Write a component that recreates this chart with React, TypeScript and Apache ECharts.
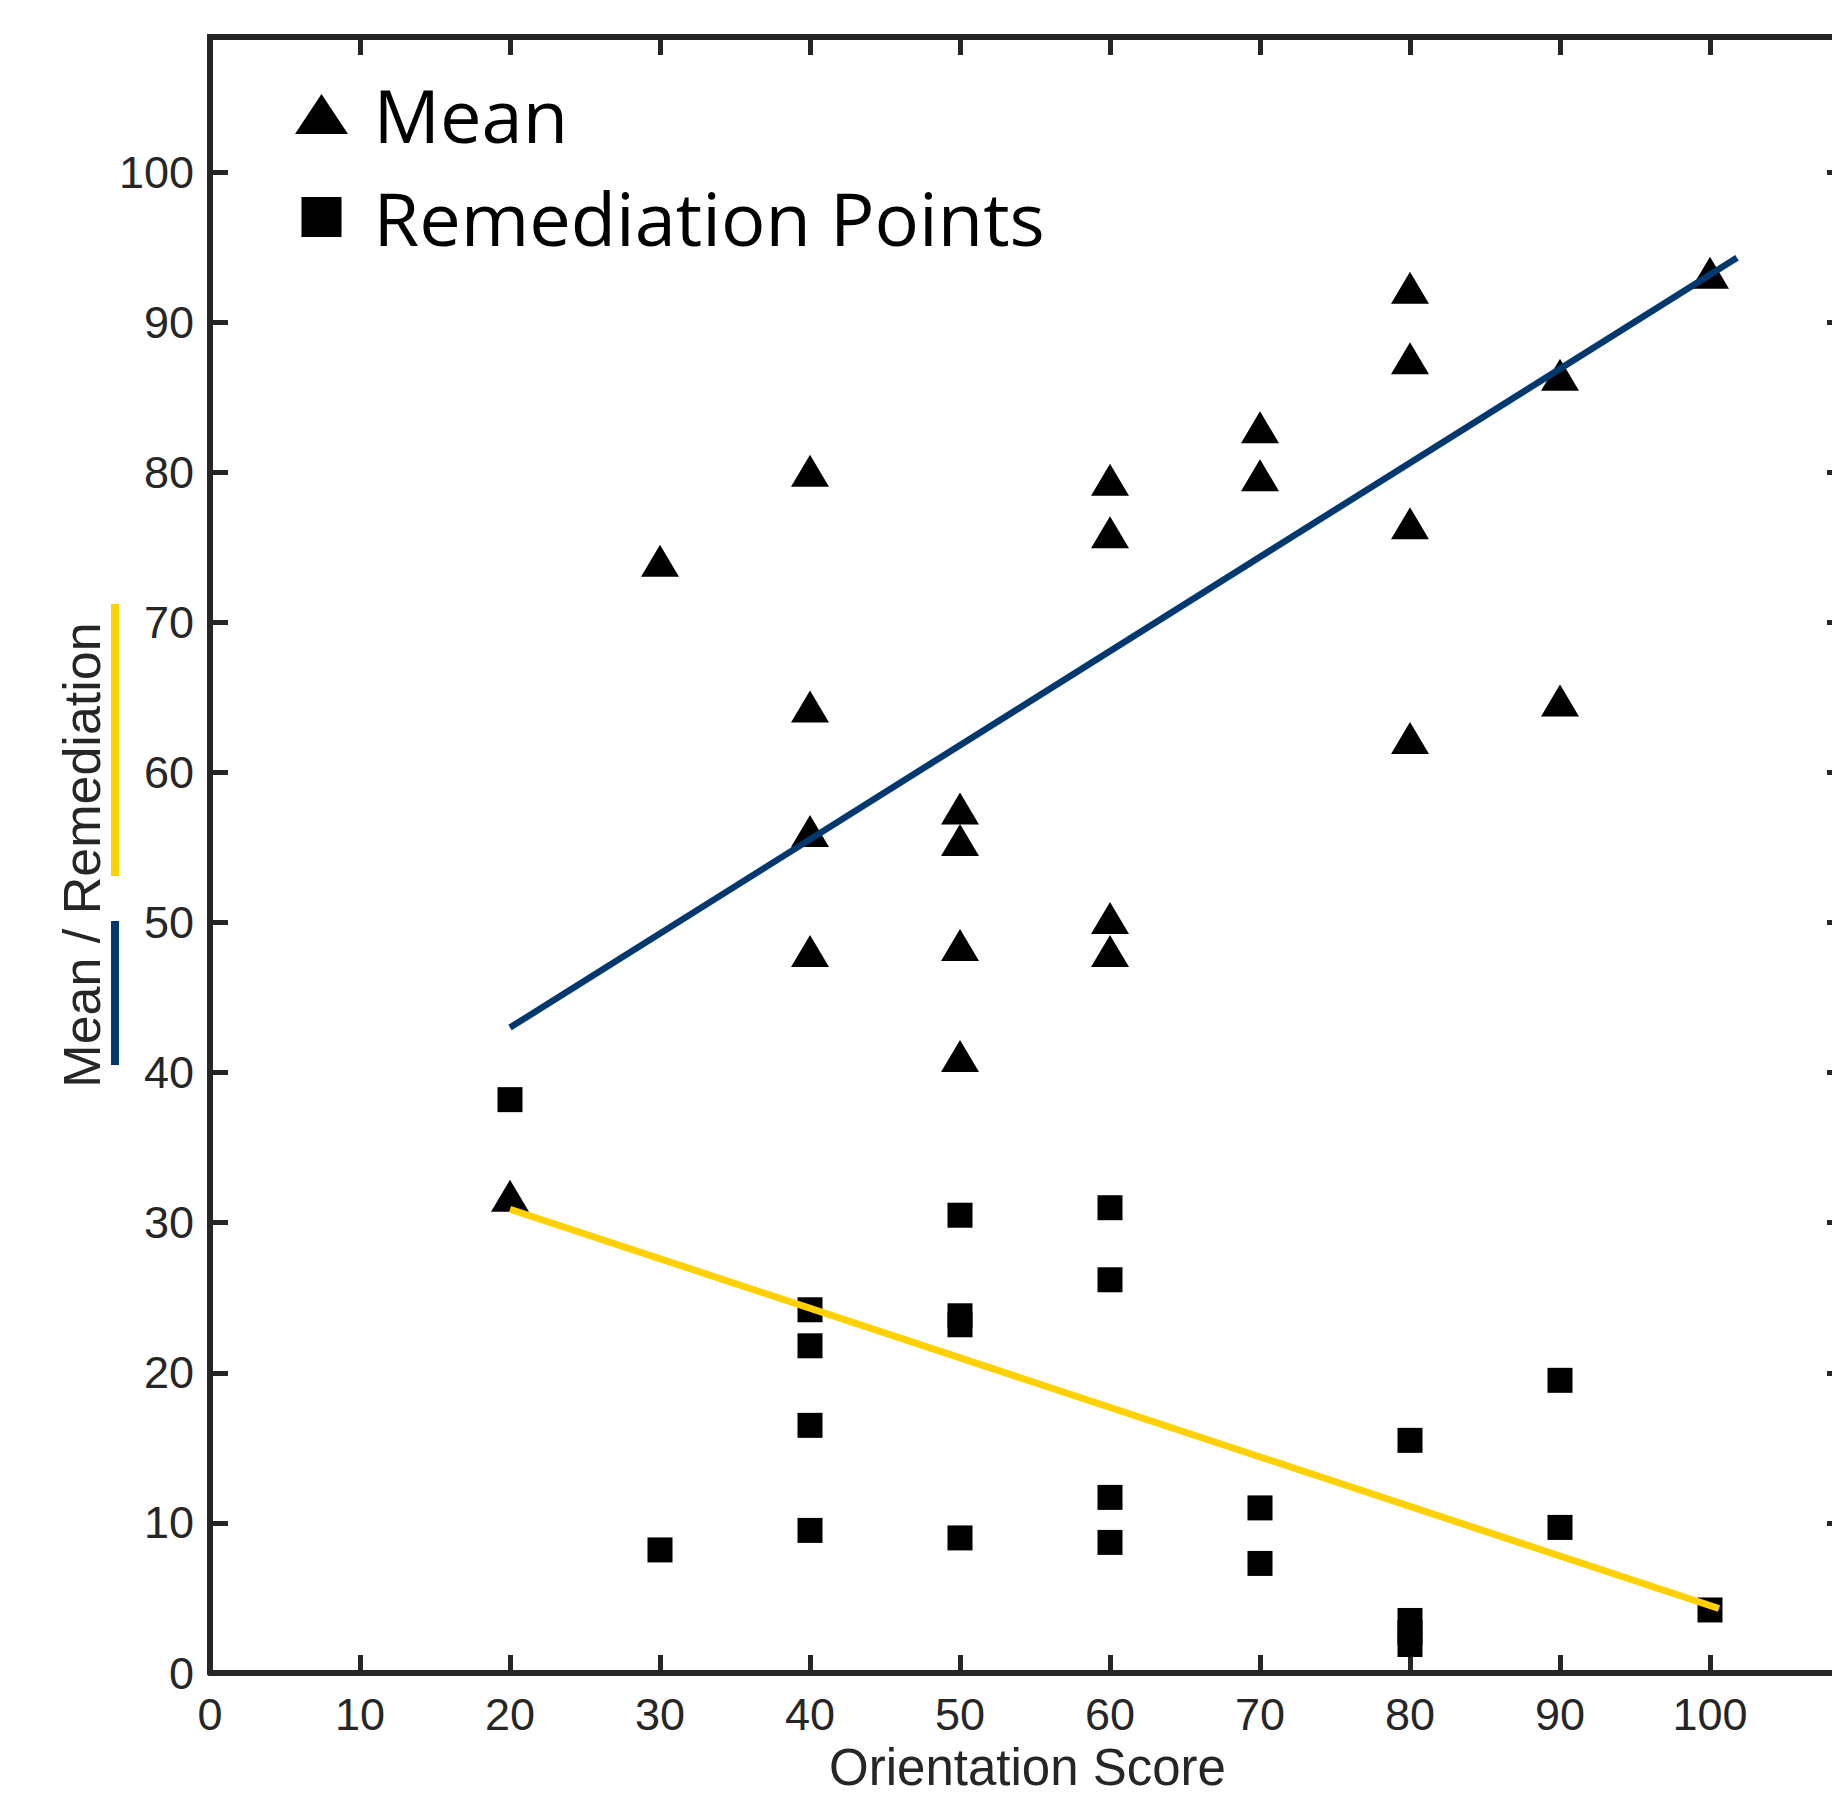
import React, { useEffect, useRef } from "react";
import * as echarts from "echarts";

// Orientation score (x) and Mean values
const meanX = [20, 30, 40, 40, 40, 40, 50, 50, 50, 50, 60, 60, 60, 60, 70, 70, 80, 80, 80, 80, 90, 90, 100];
const meanY = [31.8, 74.1, 80.1, 64.4, 56.1, 48.1, 57.6, 55.5, 48.5, 41.1, 79.5, 76.0, 50.3, 48.1, 83.0, 79.8, 92.3, 87.6, 76.6, 62.3, 86.5, 64.8, 93.3];

// Orientation score (x) and Remediation Points values
const remX = [20, 30, 40, 40, 40, 40, 50, 50, 50, 50, 60, 60, 60, 60, 70, 70, 80, 80, 80, 80, 90, 90, 100];
const remY = [38.2, 8.2, 24.2, 21.8, 16.5, 9.5, 30.5, 23.8, 23.2, 9.0, 31.0, 26.2, 11.7, 8.7, 11.0, 7.3, 15.5, 3.5, 2.7, 1.9, 19.5, 9.7, 4.2];

// Fit lines (end points)
const meanFitX = [20, 101.8];
const meanFitY = [43.0, 94.3];
const remFitX = [20, 100.6];
const remFitY = [30.9, 4.3];

// Axis setup
const axisMin = 0;
const axisMax = 109;
const tickStep = 10;
const xTitle = "Orientation Score";
const yTitle = "Mean / Remediation";
const legendNames = ["Mean", "Remediation Points"];

const BLUE = "#00386F";
const YELLOW = "#FFD100";
const AXIS = "#262626";
const FONT = "'Liberation Sans', Arial, Helvetica, sans-serif";

export default function App() {
  const ref = useRef<HTMLDivElement>(null);

  useEffect(() => {
    document.body.style.margin = "0";
    const chart = echarts.init(ref.current as HTMLDivElement, null, { renderer: "svg" });

    const labelFmt = (v: number) => (v % tickStep === 0 ? String(v) : "");

    const baseAxis = (showLabel: boolean) => ({
      type: "value",
      min: axisMin,
      max: axisMax,
      interval: tickStep,
      splitLine: { show: false },
      axisLine: { show: true, onZero: false, lineStyle: { color: AXIS, width: 6 } },
      axisTick: { show: true, inside: true, length: 18, lineStyle: { color: AXIS, width: 5 } },
      axisLabel: showLabel
        ? {
            show: true,
            fontSize: 45,
            fontFamily: FONT,
            color: AXIS,
            showMaxLabel: false,
            formatter: labelFmt,
          }
        : { show: false },
    });

    chart.setOption({
      animation: false,
      backgroundColor: "#ffffff",
      grid: {
        left: 210,
        top: 37,
        width: 1635,
        height: 1636,
        containLabel: false,
        outerBoundsMode: "none",
      },
      legend: {
        data: [
          { name: legendNames[0], icon: "path://M26.5,0L53,40L0,40Z" },
          { name: legendNames[1], icon: "path://M0,0L44,0L44,44L0,44Z" },
        ],
        orient: "vertical",
        left: 295,
        top: 77,
        padding: 0,
        itemWidth: 94,
        itemHeight: 40,
        itemGap: 29,
        selectedMode: false,
        textStyle: { fontFamily: "'Open Sans', sans-serif", fontSize: 74, color: "#000", lineHeight: 40 },
      },
      xAxis: [
        {
          ...baseAxis(true),
          position: "bottom",
          axisLabel: { ...baseAxis(true).axisLabel, margin: 19 },
          name: xTitle,
          nameLocation: "middle",
          nameGap: 66,
          nameTextStyle: { fontSize: 51, fontFamily: FONT, color: AXIS },
        },
        { ...baseAxis(false), position: "top" },
      ],
      yAxis: [
        {
          ...baseAxis(true),
          position: "left",
          axisLabel: { ...baseAxis(true).axisLabel, margin: 16 },
          name: yTitle,
          nameLocation: "middle",
          nameGap: 102,
          nameTextStyle: { fontSize: 52, fontFamily: FONT, color: AXIS },
        },
        { ...baseAxis(false), position: "right" },
      ],
      series: [
        {
          name: legendNames[0],
          type: "scatter",
          xAxisIndex: 0,
          yAxisIndex: 0,
          symbol: "triangle",
          symbolSize: [38, 32],
          itemStyle: { color: "#000", opacity: 1 },
          data: meanX.map((x, i) => [x, meanY[i]]),
          z: 2,
        },
        {
          name: legendNames[1],
          type: "scatter",
          xAxisIndex: 0,
          yAxisIndex: 0,
          symbol: "rect",
          symbolSize: 25,
          itemStyle: { color: "#000", opacity: 1 },
          data: remX.map((x, i) => [x, remY[i]]),
          z: 2,
        },
        {
          name: "Mean fit",
          type: "line",
          xAxisIndex: 0,
          yAxisIndex: 0,
          symbol: "none",
          silent: true,
          lineStyle: { color: BLUE, width: 6.5 },
          data: meanFitX.map((x, i) => [x, meanFitY[i]]),
          z: 3,
        },
        {
          name: "Remediation fit",
          type: "line",
          xAxisIndex: 0,
          yAxisIndex: 0,
          symbol: "none",
          silent: true,
          lineStyle: { color: YELLOW, width: 7 },
          data: remFitX.map((x, i) => [x, remFitY[i]]),
          z: 3,
        },
      ],
      graphic: [
        { type: "rect", shape: { x: 111, y: 604, width: 8, height: 272 }, style: { fill: YELLOW } },
        { type: "rect", shape: { x: 111, y: 921, width: 8, height: 144 }, style: { fill: BLUE } },
        { type: "rect", shape: { x: 207, y: 34, width: 6, height: 6 }, style: { fill: AXIS } },
      ],
    });

    return () => chart.dispose();
  }, []);

  return <div ref={ref} style={{ width: 1832, height: 1796 }} />;
}
